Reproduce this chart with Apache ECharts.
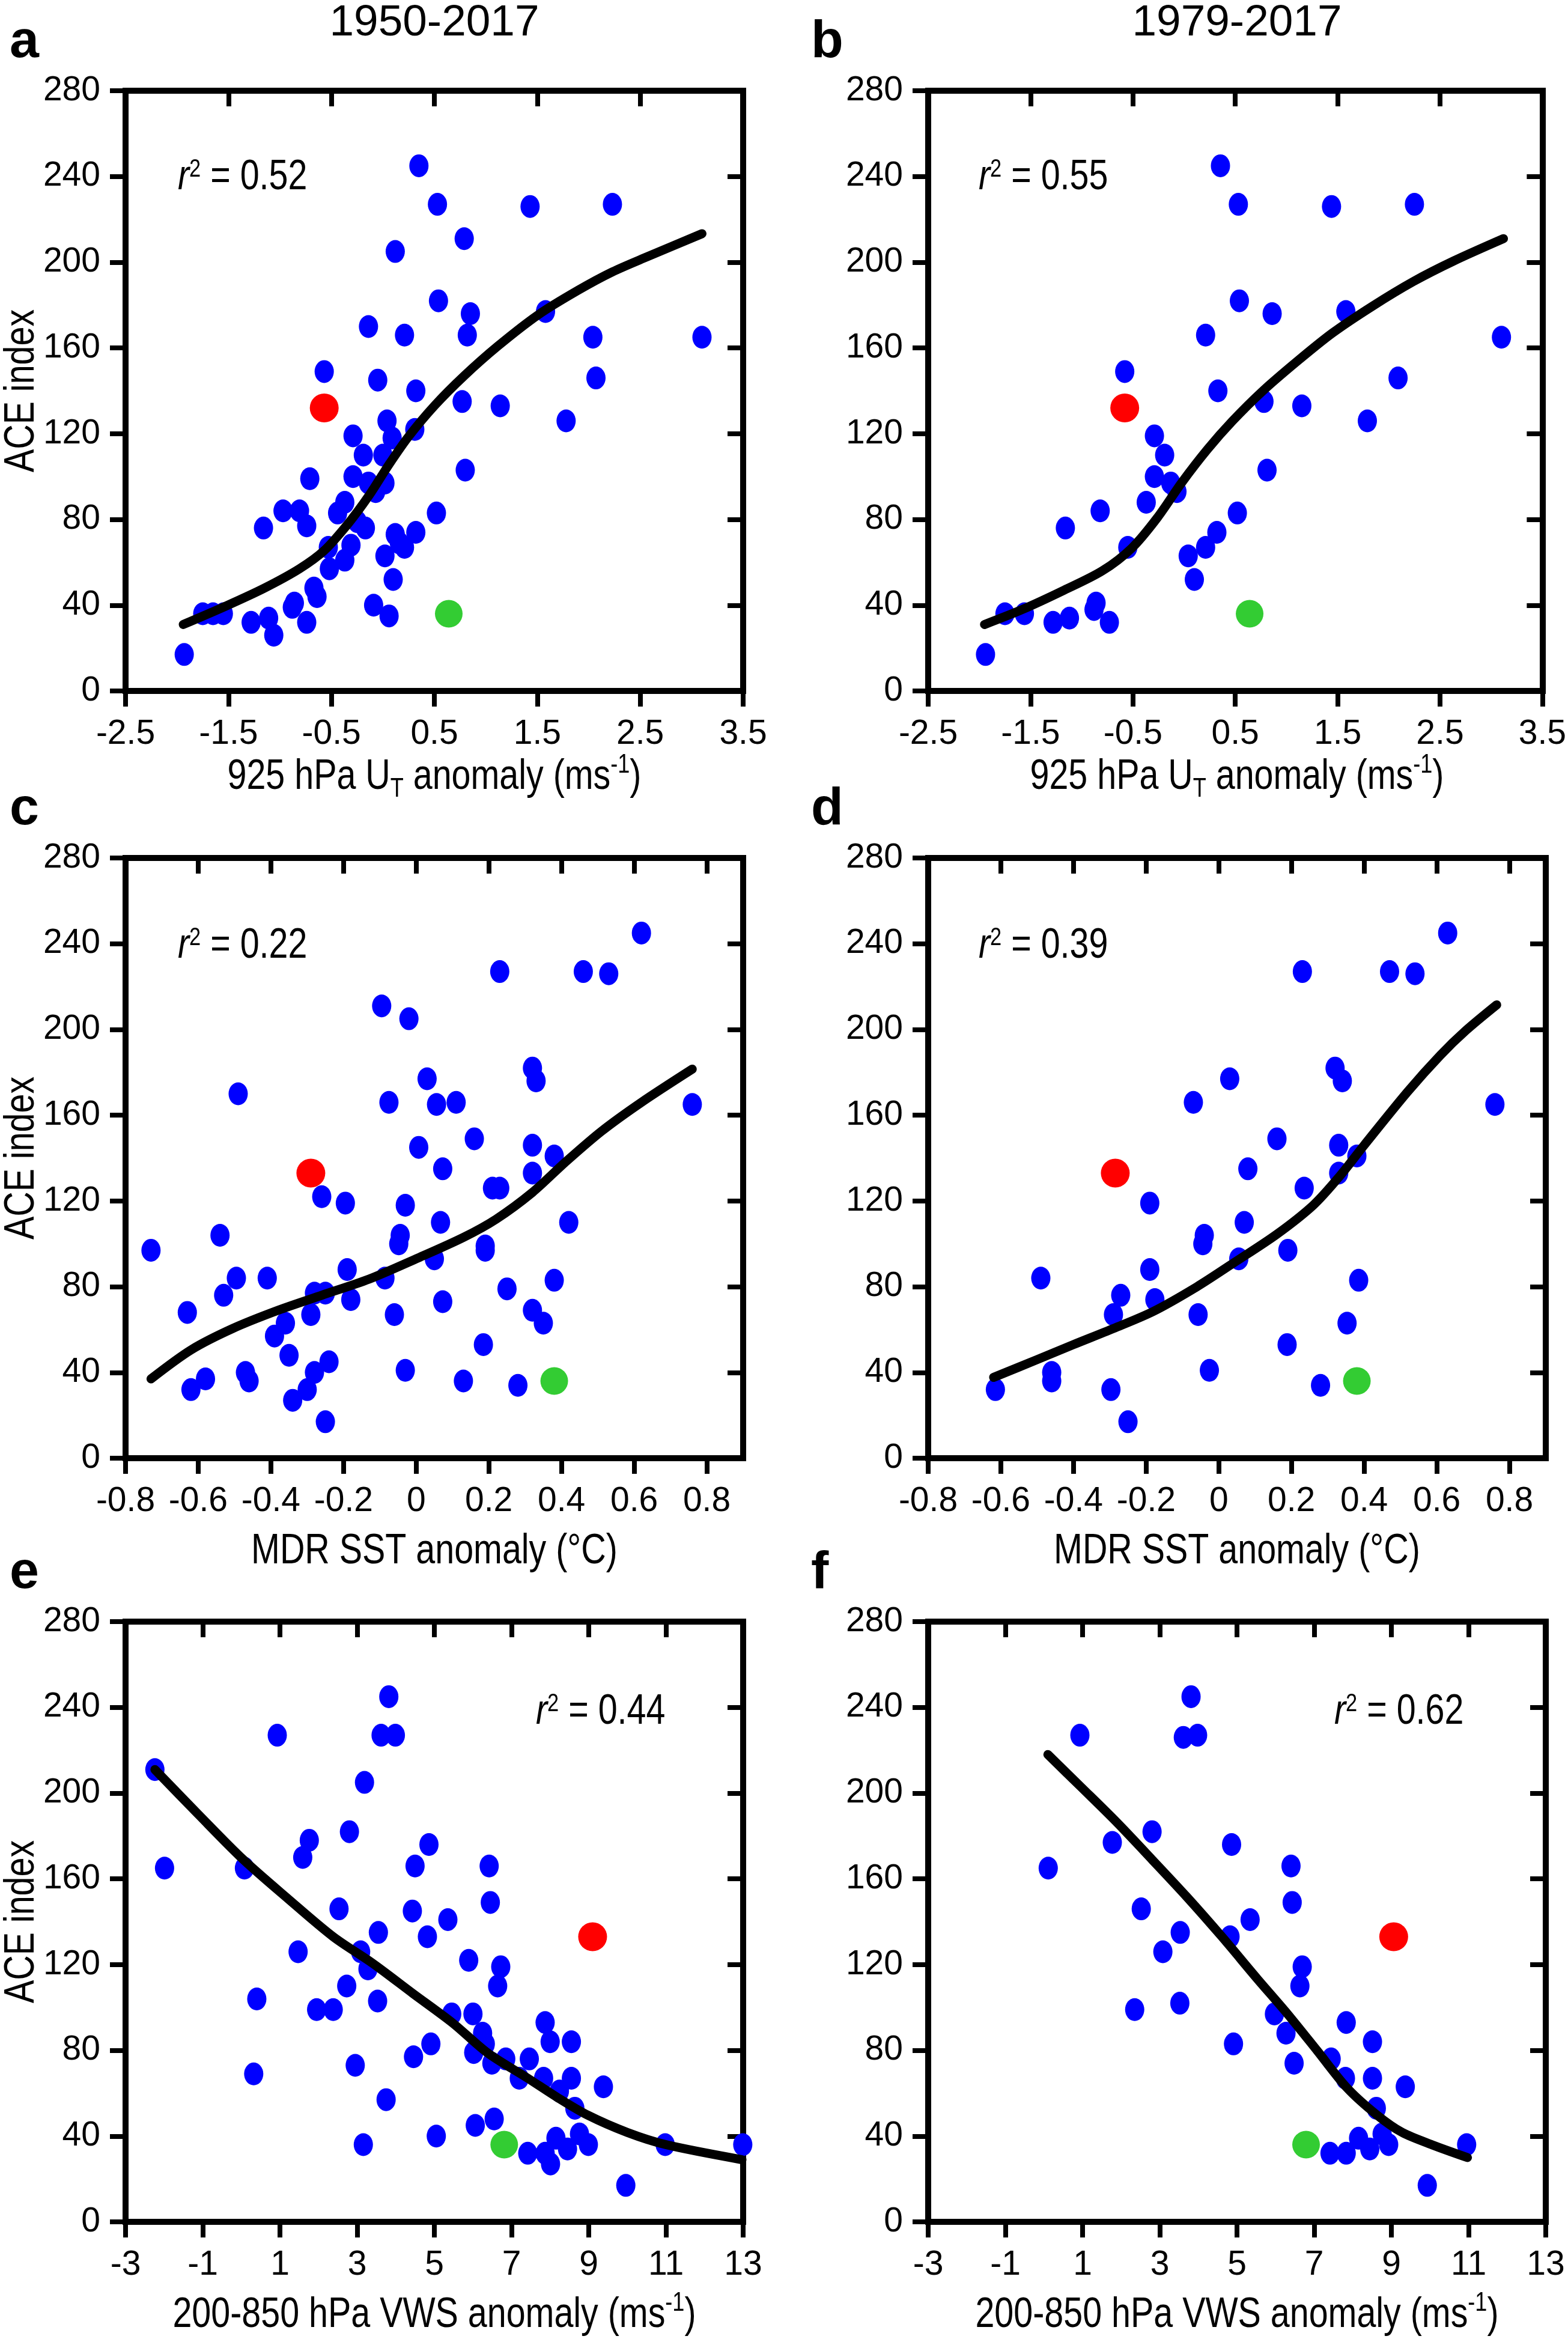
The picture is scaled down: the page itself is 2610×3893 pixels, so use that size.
<!DOCTYPE html>
<html><head><meta charset="utf-8">
<script src="https://cdn.jsdelivr.net/npm/echarts@6/dist/echarts.min.js"></script>
<style>html,body{margin:0;padding:0;background:#fff}#c{width:2610px;height:3893px}</style>
</head><body><div id="c"></div>
<script>
// ---------- tick values ----------
const yTicks = [0, 40, 80, 120, 160, 200, 240, 280];
const xTicksUT = [-2.5, -1.5, -0.5, 0.5, 1.5, 2.5, 3.5];
const xTicksSST = [-0.8, -0.6, -0.4, -0.2, 0, 0.2, 0.4, 0.6, 0.8];
const xTicksVWS = [-3, -1, 1, 3, 5, 7, 9, 11, 13];

// ---------- panel a (1950-2017, 925 hPa UT) ----------
const aBlue = [[0.35,245],[0.53,227],[1.43,226],[2.23,227],[0.79,211],[0.12,205],[0.54,182],[0.85,176],[1.58,177],[-0.14,170],
 [0.21,166],[0.82,166],[2.04,165],[3.1,165],[-0.57,149],[-0.05,145],[2.07,146],[0.32,140],[0.77,135],[1.14,133],
 [1.78,126],[0.04,126],[-0.29,119],[0.09,118],[0.31,122],[-0.19,110],[0.0,110],[0.80,103],[-0.71,99],[-0.29,100],
 [-0.14,97],[-0.07,93],[0.02,97],[0.52,83],[-0.97,84],[-0.81,84],[-0.44,83],[-0.37,88],[-1.16,76],[-0.74,77],
 [-0.25,79],[-0.17,76],[0.12,73],[0.32,74],[0.16,69],[0.21,67],[-0.53,67],[-0.31,68],[-0.37,61],[0.02,63],
 [-0.52,57],[0.10,52],[-0.67,48],[-0.64,44],[-0.88,39],[-0.86,41],[-0.09,40],[0.06,35],[-1.75,36],[-1.65,36],
 [-1.55,36],[-1.28,32],[-1.11,34],[-1.06,26],[-0.74,32],[-1.93,17]];
const aFit = [[-1.94,31],[-1.53,39.5],[-1.15,48],[-0.81,57],[-0.57,65.5],[-0.33,78.5],[-0.13,91.5],[0.06,105.7],[0.25,118.7],
 [0.50,133],[0.79,147],[1.12,161],[1.51,175.5],[1.90,187],[2.23,195.5],[2.57,202.6],[3.10,213.3]];
const aRed = [[-0.57,132]];
const aGreen = [[0.64,36]];

// ---------- panel b (1979-2017, 925 hPa UT) ----------
const bBlue = [[0.355,245],[0.53,227],[1.44,226],[2.25,227],[0.54,182],[0.86,176],[1.58,177],[0.21,166],[3.1,165],[-0.58,149],
 [2.09,146],[0.33,140],[0.78,135],[1.15,133],[1.79,126],[-0.29,119],[-0.19,110],[0.81,103],[-0.29,100],[-0.13,97],
 [-0.07,93],[-0.37,88],[0.52,83],[-0.82,84],[-1.16,76],[0.32,74],[-0.55,67],[0.21,67],[0.04,63],[0.10,52],
 [-0.88,38],[-0.86,41],[-1.75,36],[-1.56,36],[-1.28,32],[-1.12,34],[-0.73,32],[-1.94,17]];
const bFit = [[-1.95,31],[-1.58,38],[-1.19,46.6],[-0.80,56],[-0.51,66.7],[-0.26,80.9],[-0.02,97.4],[0.23,112.8],[0.47,125.8],
 [0.77,140],[1.11,154],[1.45,167],[1.84,179.5],[2.24,191],[2.63,200.5],[3.12,211]];
const bRed = [[-0.58,132]];
const bGreen = [[0.64,36]];

// ---------- panel c (1950-2017, MDR SST) ----------
const cBlue = [[0.62,245],[0.23,227],[0.46,227],[0.53,226],[-0.095,211],[-0.02,205],[0.32,182],[0.33,176],[0.03,177],[-0.49,170],
 [-0.075,166],[0.056,165],[0.11,166],[0.76,165],[0.16,149],[0.007,145],[0.32,146],[0.38,141],[0.073,135],[0.32,133],
 [-0.26,122],[0.21,126],[0.23,126],[-0.195,119],[-0.03,118],[0.067,110],[0.42,110],[-0.54,104],[-0.044,104],[-0.048,100],
 [0.19,99],[0.19,97],[-0.73,97],[0.05,93],[-0.19,88],[-0.495,84],[-0.41,84],[-0.086,84],[0.38,83],[0.25,79],
 [-0.53,76],[-0.28,77],[-0.25,77],[-0.18,74],[0.073,73],[-0.63,68],[-0.29,67],[-0.06,67],[0.32,69],[0.35,63],
 [-0.36,63],[-0.39,57],[0.185,53],[-0.35,48],[-0.24,45],[-0.47,40],[-0.46,36],[-0.28,40],[-0.03,41],[0.13,36],
 [-0.58,37],[-0.62,32],[-0.30,32],[-0.34,27],[0.28,34],[-0.25,17]];
const cFit = [[-0.73,37],[-0.62,50.5],[-0.505,60.5],[-0.38,69],[-0.26,76],[-0.13,83.5],[0.0,93],[0.13,103],[0.22,111.5],
 [0.32,124],[0.41,138],[0.51,152.5],[0.62,166],[0.76,181.5]];
const cRed = [[-0.29,133]];
const cGreen = [[0.38,36]];

// ---------- panel d (1979-2017, MDR SST) ----------
const dBlue = [[0.63,245],[0.23,227],[0.47,227],[0.54,226],[0.32,182],[0.34,176],[0.03,177],[-0.07,166],[0.76,165],[0.16,149],
 [0.33,146],[0.38,141],[0.08,135],[0.33,133],[0.235,126],[-0.19,119],[0.07,110],[-0.04,104],[-0.044,100],[0.19,97],
 [0.055,93],[-0.19,88],[-0.49,84],[0.385,83],[-0.27,76],[-0.176,74],[-0.29,67],[-0.057,67],[0.353,63],[0.188,53],
 [-0.46,40],[-0.46,36],[-0.026,41],[-0.615,32],[-0.297,32],[0.28,34],[-0.25,17]];
const dFit = [[-0.62,37.7],[-0.50,46],[-0.40,53],[-0.29,60.5],[-0.18,68.5],[-0.06,80],[0.04,91],[0.16,104.5],[0.26,118],
 [0.33,131],[0.40,146],[0.52,171],[0.61,188],[0.68,199.5],[0.765,211.5]];
const dRed = [[-0.285,133]];
const dGreen = [[0.38,36]];

// ---------- panel e (1950-2017, VWS) ----------
const eBlue = [[3.82,245],[3.62,227],[3.99,227],[0.93,227],[-2.24,211],[3.19,205],[2.80,182],[1.76,178],[1.59,170],[4.86,176],
 [-1.99,165],[0.08,165],[4.50,166],[6.42,166],[6.45,149],[2.53,146],[4.43,145],[5.35,141],[3.55,135],[4.82,133],
 [1.47,126],[3.09,126],[3.28,118],[5.89,122],[6.72,119],[6.64,110],[2.73,110],[0.40,104],[3.53,103],[1.95,99],
 [2.38,99],[5.45,97],[6.00,97],[7.87,93],[6.25,88],[6.32,83],[4.91,83],[8.00,84],[8.55,84],[6.02,79],
 [4.46,77],[6.49,74],[6.85,76],[7.46,76],[2.95,73],[7.20,67],[7.83,67],[8.55,67],[0.32,69],[8.24,61],
 [9.38,63],[8.64,53],[3.75,57],[6.55,48],[6.06,45],[8.15,39],[8.76,41],[8.99,36],[8.45,34],[7.87,32],
 [7.42,32],[8.01,27],[5.05,40],[3.16,36],[10.98,36],[12.99,36],[9.96,17]];
const eFit = [[-2.24,211],[-1.11,190],[0.05,169],[1.21,150.7],[2.38,133],[3.41,120.5],[4.44,106.6],[5.48,92.7],[6.38,78.8],
 [7.42,67],[8.19,58],[8.97,49.8],[10.0,41.7],[11.0,36],[12.97,29]];
const eRed = [[9.10,133]];
const eGreen = [[6.81,36]];

// ---------- panel f (1979-2017, VWS) ----------
const fBlue = [[3.81,245],[3.61,226],[3.98,227],[0.93,227],[2.80,182],[1.77,177],[4.86,176],[0.11,165],[6.40,166],[6.43,149],
 [2.52,146],[5.34,141],[3.53,135],[4.82,133],[3.08,126],[6.69,119],[6.63,110],[2.35,99],[3.52,102],[5.97,97],
 [7.83,93],[6.27,88],[4.91,83],[8.51,84],[7.44,76],[6.48,74],[7.81,67],[8.51,67],[9.36,63],[8.61,53],
 [8.15,39],[8.76,41],[8.93,36],[8.44,34],[7.41,32],[7.83,32],[10.95,36],[9.93,17]];
const fFit = [[0.10,218],[0.98,202.5],[1.89,186.3],[2.80,169],[3.70,151.6],[4.61,133],[5.52,113.5],[6.30,97.2],[7.08,79.8],
 [7.85,62.5],[8.63,49.8],[9.28,41.7],[10.06,35.9],[10.97,30]];
const fRed = [[9.06,133]];
const fGreen = [[6.79,36]];

const r2Values = ['0.52', '0.55', '0.22', '0.39', '0.44', '0.62'];
const panelLetters = ['a', 'b', 'c', 'd', 'e', 'f'];
const periodTitles = ['1950-2017', '1979-2017'];
const xNameUT = '925 hPa U{sub|T} anomaly (ms{sup|-1})';
const xNameSST = 'MDR SST anomaly (°C)';
const xNameVWS = '200-850 hPa VWS anomaly (ms{sup|-1})';
const yName = 'ACE index';

// ---------- layout ----------
const REG = "'Liberation Sans',Arial,Helvetica,sans-serif";
const NARROW_X = 0.82;          // horizontal condensing of the narrow text
const GW = 1028, GH = 999;
const COLS = [209, 1545];
const ROWS = [151, 1428, 2699];
const XNAME_Y = [1294, 2583, 3854];

const panels = [
 {col:0,row:0,xMin:-2.5,xMax:3.5,xTicks:xTicksUT,xName:xNameUT,blue:aBlue,fit:aFit,red:aRed,green:aGreen,r2x:296,r2y:296},
 {col:1,row:0,xMin:-2.5,xMax:3.5,xTicks:xTicksUT,xName:xNameUT,blue:bBlue,fit:bFit,red:bRed,green:bGreen,r2x:1629,r2y:296},
 {col:0,row:1,xMin:-0.8,xMax:0.9,xTicks:xTicksSST,xName:xNameSST,blue:cBlue,fit:cFit,red:cRed,green:cGreen,r2x:296,r2y:1575},
 {col:1,row:1,xMin:-0.8,xMax:0.9,xTicks:xTicksSST,xName:xNameSST,blue:dBlue,fit:dFit,red:dRed,green:dGreen,r2x:1629,r2y:1575},
 {col:0,row:2,xMin:-3,xMax:13,xTicks:xTicksVWS,xName:xNameVWS,blue:eBlue,fit:eFit,red:eRed,green:eGreen,r2x:892,r2y:2850},
 {col:1,row:2,xMin:-3,xMax:13,xTicks:xTicksVWS,xName:xNameVWS,blue:fBlue,fit:fFit,red:fRed,green:fGreen,r2x:2221,r2y:2850}
];

const grid = [], xAxis = [], yAxis = [], series = [], graphic = [];
const lineSt = {color:'#000', width:10, cap:'square'};
const tickSt = {color:'#000', width:8};
const tickFont = {fontSize:57, fontFamily:REG, color:'#000'};
const nameRich = {
  sub:{fontSize:44, fontFamily:REG, fill:'#000', lineHeight:44, verticalAlign:'bottom'},
  sup:{fontSize:44, fontFamily:REG, fill:'#000', lineHeight:44, verticalAlign:'top'}
};

panels.forEach((p, i) => {
  const left = COLS[p.col], top = ROWS[p.row];
  grid.push({left:left, top:top, width:GW, height:GH});
  xAxis.push({type:'value', gridIndex:i, position:'bottom', min:p.xMin, max:p.xMax,
    axisLine:{onZero:false, lineStyle:lineSt},
    axisTick:{show:true, inside:false, length:26, customValues:p.xTicks, lineStyle:tickSt},
    axisLabel:Object.assign({show:true, customValues:p.xTicks, margin:44}, tickFont),
    splitLine:{show:false}});
  xAxis.push({type:'value', gridIndex:i, position:'top', min:p.xMin, max:p.xMax,
    axisLine:{onZero:false, lineStyle:lineSt},
    axisTick:{show:true, inside:true, length:26, customValues:p.xTicks, lineStyle:tickSt},
    axisLabel:{show:false}, splitLine:{show:false}});
  yAxis.push({type:'value', gridIndex:i, position:'left', min:0, max:280,
    axisLine:{onZero:false, lineStyle:lineSt},
    axisTick:{show:true, inside:false, length:26, customValues:yTicks, lineStyle:tickSt},
    axisLabel:Object.assign({show:true, customValues:yTicks, margin:42, padding:[0,0,20,0]}, tickFont),
    splitLine:{show:false}});
  yAxis.push({type:'value', gridIndex:i, position:'right', min:0, max:280,
    axisLine:{onZero:false, lineStyle:lineSt},
    axisTick:{show:true, inside:true, length:26, customValues:yTicks, lineStyle:tickSt},
    axisLabel:{show:false}, splitLine:{show:false}});

  const xi = 2 * i, yi = 2 * i;
  series.push({type:'scatter', xAxisIndex:xi, yAxisIndex:yi, data:p.blue, symbol:'circle', symbolSize:[32, 38],
    itemStyle:{color:'#0000ff', opacity:1}, z:2, silent:true});
  series.push({type:'line', xAxisIndex:xi, yAxisIndex:yi, data:p.fit, showSymbol:false, smooth:0.3,
    lineStyle:{color:'#000', width:15, cap:'round', join:'round', opacity:1}, z:3, silent:true});
  series.push({type:'scatter', xAxisIndex:xi, yAxisIndex:yi, data:p.red, symbol:'circle', symbolSize:48,
    itemStyle:{color:'#ff0000', opacity:1}, z:4, silent:true});
  series.push({type:'scatter', xAxisIndex:xi, yAxisIndex:yi, data:p.green, symbol:'circle', symbolSize:46,
    itemStyle:{color:'#33cc33', opacity:1}, z:4, silent:true});

  // r^2 annotation
  graphic.push({type:'text', x:p.r2x, y:p.r2y, scaleX:NARROW_X, z:10, silent:true,
    style:{text:'{i|r}{s|2} = ' + r2Values[i], fontSize:70, fontFamily:REG, fill:'#000',
      align:'left', verticalAlign:'middle',
      rich:{i:{fontStyle:'italic', fontSize:70, fontFamily:REG, fill:'#000'},
            s:{fontSize:42, fontFamily:REG, fill:'#000', lineHeight:42, verticalAlign:'top'}}}});
  // x axis title
  graphic.push({type:'text', x:left + GW / 2, y:XNAME_Y[p.row], scaleX:NARROW_X, z:10, silent:true,
    style:{text:p.xName, fontSize:70, fontFamily:REG, fill:'#000', align:'center', verticalAlign:'middle',
      lineHeight:84, rich:nameRich}});
  // y axis title (left column only)
  if (p.col === 0) {
    graphic.push({type:'text', x:37, y:top + GH / 2, rotation:Math.PI / 2, scaleX:NARROW_X, z:10, silent:true,
      style:{text:yName, fontSize:70, fontFamily:REG, fill:'#000', align:'center', verticalAlign:'middle'}});
  }
  // panel letter
  graphic.push({type:'text', x:p.col === 0 ? 16 : 1350, y:top - 80, z:10, silent:true,
    style:{text:panelLetters[i], fontSize:88, fontWeight:'bold', fontFamily:REG, fill:'#000',
      align:'left', verticalAlign:'middle'}});
});

// column titles
graphic.push({type:'text', x:COLS[0] + GW / 2, y:39, silent:true,
  style:{text:periodTitles[0], fontSize:73, fontFamily:REG, fill:'#000', align:'center', verticalAlign:'middle'}});
graphic.push({type:'text', x:COLS[1] + GW / 2, y:39, silent:true,
  style:{text:periodTitles[1], fontSize:73, fontFamily:REG, fill:'#000', align:'center', verticalAlign:'middle'}});

const chart = echarts.init(document.getElementById('c'), null, {renderer:'canvas', width:2610, height:3893});
chart.setOption({
  backgroundColor:'#ffffff',
  animation:false,
  grid, xAxis, yAxis, series, graphic
});
</script>
</body></html>
